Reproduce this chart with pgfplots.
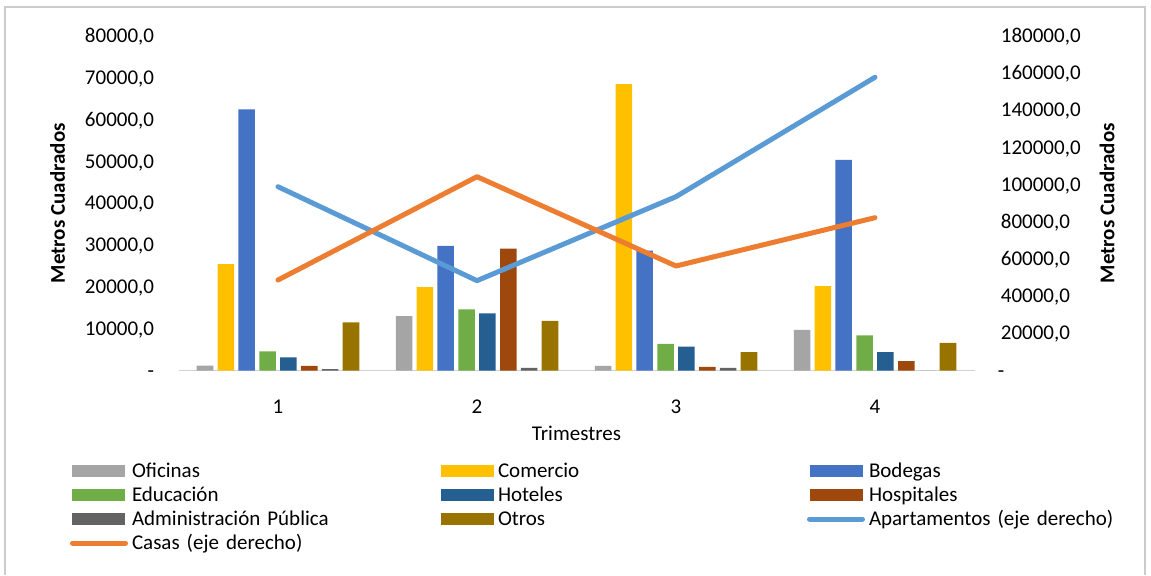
\documentclass[border=0pt]{standalone}
\usepackage{pgfplots}
\pgfplotsset{compat=1.18}
\usepackage{fontspec}
\setmainfont{Carlito}
\definecolor{cOfi}{HTML}{A5A5A5}
\definecolor{cCom}{HTML}{FFC000}
\definecolor{cBod}{HTML}{4472C4}
\definecolor{cEdu}{HTML}{70AD47}
\definecolor{cHot}{HTML}{255E91}
\definecolor{cHos}{HTML}{9E480E}
\definecolor{cAdm}{HTML}{636363}
\definecolor{cOtr}{HTML}{997300}
\definecolor{cApt}{HTML}{5B9BD5}
\definecolor{cCas}{HTML}{ED7D31}
\pgfplotsset{
  barlegend/.style={legend image code/.code={\fill[##1] (0pt,-3pt) rectangle (26.5pt,3pt);}},
  linelegend/.style={legend image code/.code={\draw[##1] (0pt,0pt) -- (26.5pt,0pt);}},
  mybase/.style={scale only axis, width=398pt, height=167.25pt,
    at={(89.25pt,102.25pt)}, anchor=south west,
    xmin=0.5, xmax=4.5, tick style={draw=none},
    scaled y ticks=false, scaled x ticks=false,
    /pgf/number format/assume math mode=true},
}
\begin{document}
\fontsize{10.5pt}{12.6pt}\selectfont
\begin{tikzpicture}
\useasboundingbox (0,0) rectangle (575.5pt,287.5pt);
\draw[color=gray!40, line width=0.6pt] (2.5pt,0pt) -- (2.5pt,284pt) -- (572.5pt,284pt) -- (572.5pt,0pt);
\begin{axis}[mybase,
  ymin=0, ymax=80000,
  axis x line*=bottom, axis y line*=left,
  x axis line style={draw=gray!35, line width=0.6pt, -},
  y axis line style={draw=none},
  xtick={1,2,3,4}, xticklabels={1,2,3,4},
  xticklabel style={anchor=center, yshift=-13.75pt},
  ytick={0,10000,20000,30000,40000,50000,60000,70000,80000},
  yticklabels={{-\hspace{2.5pt}},{10000,0},{20000,0},{30000,0},{40000,0},{50000,0},{60000,0},{70000,0},{80000,0}},
  yticklabel style={anchor=base east, inner sep=0pt, xshift=-12pt, yshift=-3.3pt},
  xlabel={Trimestres},
  xlabel style={at={(axis description cs:0.5,-0.1868)}, anchor=center},
  ylabel={\bfseries Metros Cuadrados},
  ylabel style={at={(axis description cs:-0.152,0.5)}, anchor=center},
  ybar, bar width=0.083,
]
\addplot[fill=cOfi, draw=none, bar shift=-0.3668] coordinates {(1,1150) (2,13030) (3,1080) (4,9690)};
\addplot[fill=cCom, draw=none, bar shift=-0.2620] coordinates {(1,25470) (2,19970) (3,68520) (4,20210)};
\addplot[fill=cBod, draw=none, bar shift=-0.1572] coordinates {(1,62470) (2,29780) (3,28650) (4,50350)};
\addplot[fill=cEdu, draw=none, bar shift=-0.0524] coordinates {(1,4600) (2,14640) (3,6340) (4,8420)};
\addplot[fill=cHot, draw=none, bar shift=0.0524] coordinates {(1,3150) (2,13680) (3,5700) (4,4420)};
\addplot[fill=cHos, draw=none, bar shift=0.1572] coordinates {(1,1080) (2,29130) (3,840) (4,2270)};
\addplot[fill=cAdm, draw=none, bar shift=0.2620] coordinates {(1,360) (2,600) (3,600) (4,0)};
\addplot[fill=cOtr, draw=none, bar shift=0.3668] coordinates {(1,11530) (2,11840) (3,4420) (4,6580)};
\end{axis}
\begin{axis}[mybase,
  ymin=0, ymax=180000,
  axis x line=none, axis y line*=right,
  y axis line style={draw=none},
  ytick={0,20000,40000,60000,80000,100000,120000,140000,160000,180000},
  yticklabels={{\hspace{-1.5pt}-},{20000,0},{40000,0},{60000,0},{80000,0},{100000,0},{120000,0},{140000,0},{160000,0},{180000,0}},
  yticklabel style={anchor=base west, inner sep=0pt, xshift=13pt, yshift=-3.3pt},
  ylabel={\bfseries Metros Cuadrados},
  ylabel style={at={(axis description cs:1.1665,0.5)}, anchor=center},
  legend columns=3,
  legend cell align=left,
  legend style={at={(axis description cs:-0.1363,-0.2646)}, anchor=north west,
    draw=none, fill=none, inner sep=0pt, outer sep=0pt, column sep=0pt, row sep=0pt,
    nodes={inner xsep=2pt, inner ysep=0pt, text width=152.5pt, text height=9pt, text depth=3pt, align=left}},
]
\addlegendimage{barlegend, fill=cOfi, draw=none}
\addlegendentry{Oficinas}
\addlegendimage{barlegend, fill=cCom, draw=none}
\addlegendentry{Comercio}
\addlegendimage{barlegend, fill=cBod, draw=none}
\addlegendentry{Bodegas}
\addlegendimage{barlegend, fill=cEdu, draw=none}
\addlegendentry{Educación}
\addlegendimage{barlegend, fill=cHot, draw=none}
\addlegendentry{Hoteles}
\addlegendimage{barlegend, fill=cHos, draw=none}
\addlegendentry{Hospitales}
\addlegendimage{barlegend, fill=cAdm, draw=none}
\addlegendentry{Administración Pública}
\addlegendimage{barlegend, fill=cOtr, draw=none}
\addlegendentry{Otros}
\addplot[linelegend, color=cApt, line width=2.5pt, line cap=round, line join=round, mark=none]
  coordinates {(1,98900) (2,48340) (3,93540) (4,157800)};
\addlegendentry{Apartamentos (eje derecho)}
\addplot[linelegend, color=cCas, line width=2.5pt, line cap=round, line join=round, mark=none]
  coordinates {(1,48700) (2,104300) (3,56240) (4,82240)};
\addlegendentry{Casas (eje derecho)}
\end{axis}
\end{tikzpicture}
\end{document}
